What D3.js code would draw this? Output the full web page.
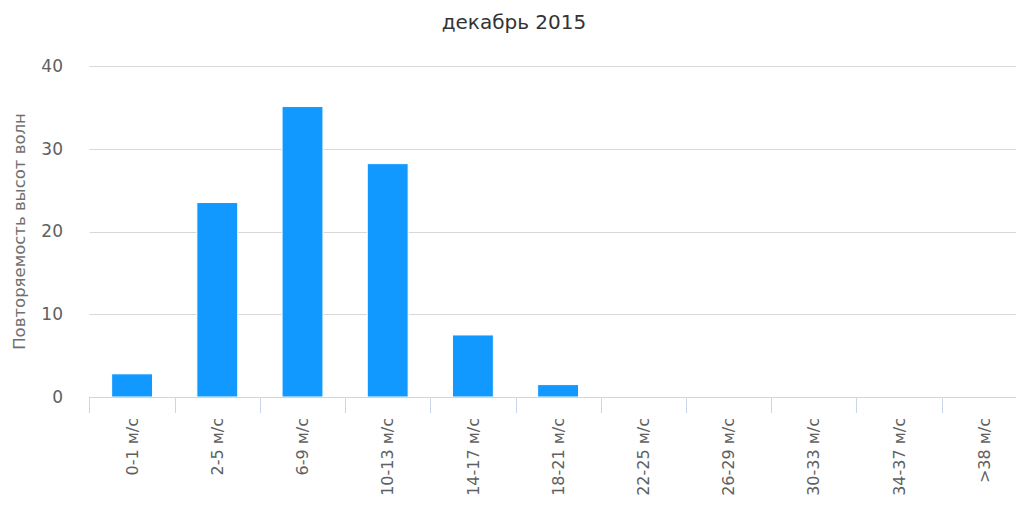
<!DOCTYPE html>
<html>
<head>
<meta charset="utf-8">
<script src="https://cdn.jsdelivr.net/npm/d3@7"></script>
<style>
  html, body { margin: 0; padding: 0; background: #fff; overflow: hidden; }
  svg { display: block; font-family: "DejaVu Sans", Verdana, sans-serif; }
</style>
</head>
<body>
<svg id="chart" width="1016" height="506"></svg>
<script>
const title = "декабрь 2015";
const yTitle = "Повторяемость высот волн";
const categories = ["0-1 м/с", "2-5 м/с", "6-9 м/с", "10-13 м/с", "14-17 м/с", "18-21 м/с",
                    "22-25 м/с", "26-29 м/с", "30-33 м/с", "34-37 м/с", ">38 м/с"];
const values = [2.8, 23.5, 35.1, 28.2, 7.5, 1.5, 0, 0, 0, 0, 0];
const yTicks = [0, 10, 20, 30, 40];

const svg = d3.select("#chart");
const W = 1016, H = 506;
const pLeft = 89.5, pTop = 66, pBottom = 397;
const band = 85.2;
const pRight = pLeft + band * categories.length;

const x = d3.scaleBand().domain(categories).range([pLeft, pRight]).paddingInner(0.52).paddingOuter(0.26);
const y = d3.scaleLinear().domain([0, 40]).range([pBottom, pTop]);

// gridlines
svg.append("g").selectAll("line").data(yTicks.filter(d => d > 0)).join("line")
  .attr("x1", pLeft).attr("x2", W)
  .attr("y1", d => Math.round(y(d)) + 0.5).attr("y2", d => Math.round(y(d)) + 0.5)
  .attr("stroke", "#d8d8d8").attr("stroke-width", 1);

// y tick labels
svg.append("g").selectAll("text").data(yTicks).join("text")
  .attr("x", 63).attr("y", d => y(d)).attr("dy", "0.35em")
  .attr("text-anchor", "end").attr("fill", "#606060").style("font-size", "17px")
  .text(d => d);

// y axis title
svg.append("text")
  .attr("transform", `translate(25,${(pTop + pBottom) / 2}) rotate(-90)`)
  .attr("text-anchor", "middle").attr("fill", "#707070").style("font-size", "16.5px")
  .text(yTitle);

// bars
svg.append("g").selectAll("rect").data(values.map((v, i) => ({c: categories[i], v})).filter(d => d.v > 0)).join("rect")
  .attr("x", d => x(d.c)).attr("width", x.bandwidth())
  .attr("y", d => y(d.v)).attr("height", d => y(0) - y(d.v))
  .attr("fill", "#1199ff").attr("stroke", "#ffffff").attr("stroke-width", 1);

// x axis
const gx = svg.append("g").attr("transform", `translate(0,${pBottom})`);
gx.append("line").attr("x1", pLeft).attr("x2", W).attr("y1", 0.5).attr("y2", 0.5)
  .attr("stroke", "#ccd6eb").attr("stroke-width", 1);
gx.selectAll("line.tick").data(categories).join("line").attr("class", "tick")
  .attr("x1", d => Math.round(x(d) - x.step() * 0.26) + 0.5)
  .attr("x2", d => Math.round(x(d) - x.step() * 0.26) + 0.5)
  .attr("y1", 0).attr("y2", 16)
  .attr("stroke", "#ccd6eb").attr("stroke-width", 1);
gx.selectAll("text").data(categories).join("text")
  .attr("transform", d => `translate(${x(d) + x.bandwidth() / 2},21) rotate(-90)`)
  .attr("text-anchor", "end").attr("dy", "0.35em")
  .attr("fill", "#606060").style("font-size", "16px")
  .text(d => d);

// title
svg.append("text").attr("x", 514).attr("y", 29).attr("text-anchor", "middle")
  .attr("fill", "#333333").style("font-size", "20px").text(title);
</script>
</body>
</html>
